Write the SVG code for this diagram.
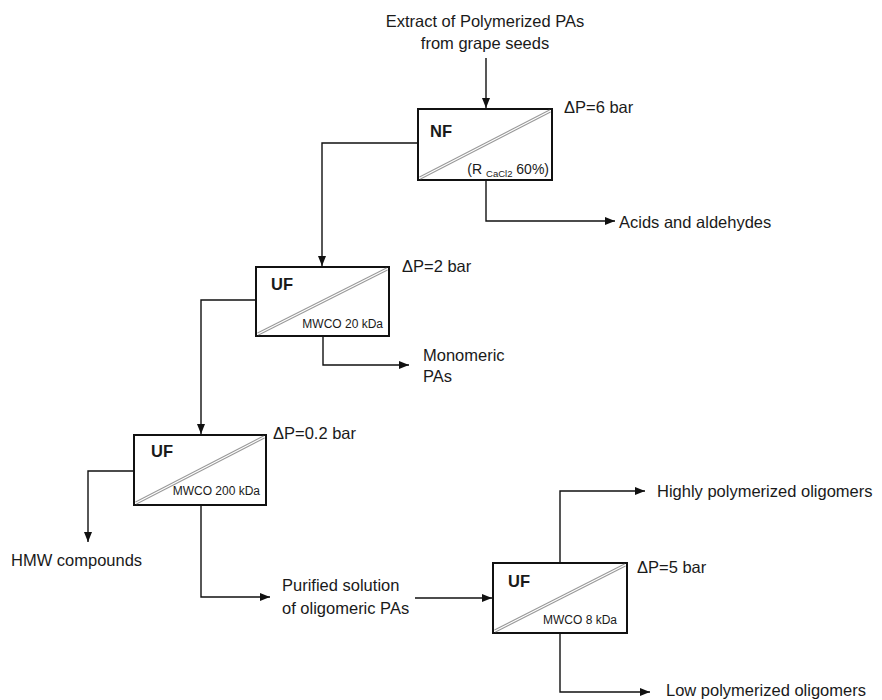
<svg xmlns="http://www.w3.org/2000/svg" width="882" height="700" viewBox="0 0 882 700">
<defs>
<marker id="ah" viewBox="0 0 10 10" refX="10" refY="5" markerWidth="10" markerHeight="10" markerUnits="userSpaceOnUse" orient="auto">
<path d="M0,1 L10,5 L0,9 Z" fill="#111"/>
</marker>
</defs>
<style>
text{font-family:"Liberation Sans",Arial,sans-serif;fill:#1a1a1a;}
.lbl{font-size:16.5px;}
.bold{font-size:16.5px;font-weight:bold;}
.small{font-size:12px;}
.box{fill:#fff;stroke:#111;stroke-width:2;}
.mem1{stroke:#999;stroke-width:3.2;fill:none;}
.mem2{stroke:#fff;stroke-width:1.2;fill:none;}
.conn{fill:none;stroke:#111;stroke-width:1.4;}
</style>
<rect width="882" height="700" fill="#fff"/>
<g id="connectors">
<path class="conn" d="M486,58 V108" marker-end="url(#ah)"/>
<path class="conn" d="M418,143 H322 V266" marker-end="url(#ah)"/>
<path class="conn" d="M486,180 V221 H615" marker-end="url(#ah)"/>
<path class="conn" d="M256,300 H201 V434" marker-end="url(#ah)"/>
<path class="conn" d="M323,336 V365 H409" marker-end="url(#ah)"/>
<path class="conn" d="M134,471 H88 V542" marker-end="url(#ah)"/>
<path class="conn" d="M201,505 V597 H270" marker-end="url(#ah)"/>
<path class="conn" d="M415,598 H492" marker-end="url(#ah)"/>
<path class="conn" d="M560,563 V491 H645" marker-end="url(#ah)"/>
<path class="conn" d="M560,633 V692 H650" marker-end="url(#ah)"/>
</g>
<g id="feed">
<text class="lbl" x="485" y="27" text-anchor="middle">Extract of Polymerized PAs</text>
<text class="lbl" x="485" y="49" text-anchor="middle">from grape seeds</text>
</g>
<g id="nf">
<rect class="box" x="418" y="109" width="134" height="71"/>
<line class="mem1" x1="420" y1="178" x2="550" y2="111"/>
<line class="mem2" x1="420" y1="178" x2="550" y2="111"/>
<text class="bold" x="430" y="137">NF</text>
<text x="549" y="174" text-anchor="end" style="font-size:14px">(R <tspan dy="3" style="font-size:9.5px">CaCl2</tspan><tspan dy="-3"> 60%)</tspan></text>
<text class="lbl" x="564" y="113">ΔP=6 bar</text>
</g>
<g id="uf1">
<rect class="box" x="256" y="267" width="133" height="69"/>
<line class="mem1" x1="258" y1="334" x2="387" y2="269"/>
<line class="mem2" x1="258" y1="334" x2="387" y2="269"/>
<text class="bold" x="271" y="290">UF</text>
<text class="small" x="383" y="328" text-anchor="end">MWCO 20 kDa</text>
<text class="lbl" x="402" y="272">ΔP=2 bar</text>
</g>
<g id="uf2">
<rect class="box" x="134" y="435" width="132" height="70"/>
<line class="mem1" x1="136" y1="503" x2="264" y2="437"/>
<line class="mem2" x1="136" y1="503" x2="264" y2="437"/>
<text class="bold" x="151" y="457">UF</text>
<text class="small" x="260" y="495" text-anchor="end">MWCO 200 kDa</text>
<text class="lbl" x="273" y="439">ΔP=0.2 bar</text>
</g>
<g id="uf3">
<rect class="box" x="493" y="563" width="134" height="70"/>
<line class="mem1" x1="495" y1="631" x2="625" y2="565"/>
<line class="mem2" x1="495" y1="631" x2="625" y2="565"/>
<text class="bold" x="508" y="587">UF</text>
<text class="small" x="617" y="624" text-anchor="end">MWCO 8 kDa</text>
<text class="lbl" x="637" y="573">ΔP=5 bar</text>
</g>
<g id="acids"><text class="lbl" x="619" y="228">Acids and aldehydes</text></g>
<g id="monomeric">
<text class="lbl" x="423" y="361">Monomeric</text>
<text class="lbl" x="423" y="382">PAs</text>
</g>
<g id="hmw"><text class="lbl" x="11" y="566">HMW compounds</text></g>
<g id="purified">
<text class="lbl" x="282" y="591">Purified solution</text>
<text class="lbl" x="282" y="614">of oligomeric PAs</text>
</g>
<g id="highly"><text class="lbl" x="657" y="497">Highly polymerized oligomers</text></g>
<g id="low"><text class="lbl" x="666" y="696">Low polymerized oligomers</text></g>
</svg>
